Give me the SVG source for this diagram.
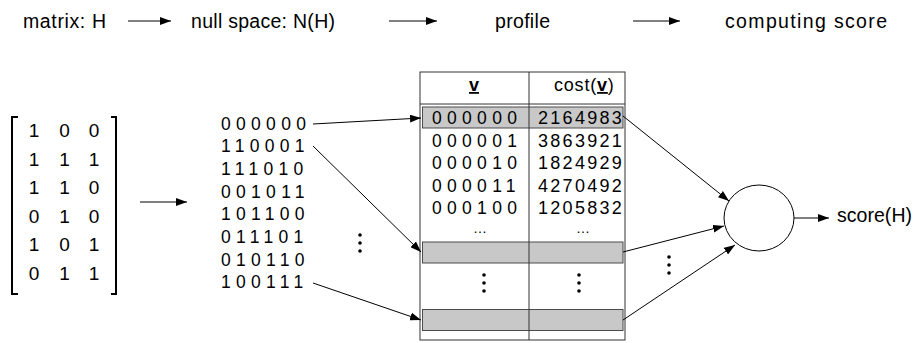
<svg xmlns="http://www.w3.org/2000/svg" width="917" height="343" viewBox="0 0 917 343">
<style>
text{font-family:"Liberation Sans",Arial,sans-serif;fill:#000}
.lbl{font-size:19.5px}
.mx{font-size:19px;text-anchor:middle}
.bits{font-size:17.5px;letter-spacing:5.3px}
.cost{font-size:18px;letter-spacing:2.3px}
.conn line{stroke:#000;stroke-width:1;fill:none}
.row{fill:#c8c8c8;stroke:#4a4a4a;stroke-width:1}
.dot{fill:#000}
</style>
<defs>
<marker id="ah" viewBox="0 0 11 8" refX="11" refY="4" markerWidth="11" markerHeight="8" markerUnits="userSpaceOnUse" orient="auto">
<path d="M0,0 L11,4 L0,8 Z" fill="#000"/>
</marker>
</defs>

<g id="labels">
<text class="lbl" x="23" y="28" textLength="83" lengthAdjust="spacing">matrix: H</text>
<text class="lbl" x="191" y="28" textLength="144" lengthAdjust="spacing">null space: N(H)</text>
<text class="lbl" x="495" y="28" textLength="55" lengthAdjust="spacing">profile</text>
<text class="lbl" x="725" y="28" textLength="162" lengthAdjust="spacing">computing score</text>
</g>

<g id="matrix">
<path d="M18,117 H12 V294 H18" fill="none" stroke="#000" stroke-width="2"/>
<path d="M111,117 H116 V294 H111" fill="none" stroke="#000" stroke-width="2"/>
<text class="mx" x="34" y="137">1</text><text class="mx" x="64.5" y="137">0</text><text class="mx" x="94" y="137">0</text>
<text class="mx" x="34" y="165.5">1</text><text class="mx" x="64.5" y="165.5">1</text><text class="mx" x="94" y="165.5">1</text>
<text class="mx" x="34" y="194">1</text><text class="mx" x="64.5" y="194">1</text><text class="mx" x="94" y="194">0</text>
<text class="mx" x="34" y="222.5">0</text><text class="mx" x="64.5" y="222.5">1</text><text class="mx" x="94" y="222.5">0</text>
<text class="mx" x="34" y="251">1</text><text class="mx" x="64.5" y="251">0</text><text class="mx" x="94" y="251">1</text>
<text class="mx" x="34" y="279.5">0</text><text class="mx" x="64.5" y="279.5">1</text><text class="mx" x="94" y="279.5">1</text>
</g>

<g id="nullspace">
<text class="bits" x="221" y="129.5">000000</text>
<text class="bits" x="221" y="152.2">110001</text>
<text class="bits" x="221" y="174.9">111010</text>
<text class="bits" x="221" y="197.6">001011</text>
<text class="bits" x="221" y="220.3">101100</text>
<text class="bits" x="221" y="243">011101</text>
<text class="bits" x="221" y="265.7">010110</text>
<text class="bits" x="221" y="288.4">100111</text>
<circle class="dot" cx="360" cy="235" r="1.8"/>
<circle class="dot" cx="360" cy="243" r="1.8"/>
<circle class="dot" cx="360" cy="251" r="1.8"/>
</g>

<g id="profile">
<rect x="420" y="72" width="205" height="268" fill="#fff" stroke="#333" stroke-width="1"/>
<line x1="420" y1="104" x2="625" y2="104" stroke="#333" stroke-width="1"/>
<rect class="row" x="422.5" y="107" width="200.5" height="21"/>
<rect class="row" x="422.5" y="242" width="200.5" height="21"/>
<rect class="row" x="422.5" y="309.5" width="200.5" height="21"/>
<line x1="529" y1="72" x2="529" y2="340" stroke="#333" stroke-width="1"/>
<text x="474" y="91" font-size="18" font-weight="bold" text-anchor="middle" text-decoration="underline">v</text>
<text x="554" y="91" font-size="18" letter-spacing="0.8">cost(<tspan font-weight="bold" text-decoration="underline">v</tspan>)</text>
<text class="bits" x="432" y="124">000000</text><text class="cost" x="538" y="124">2164983</text>
<text class="bits" x="432" y="146.5">000001</text><text class="cost" x="538" y="146.5">3863921</text>
<text class="bits" x="432" y="169">000010</text><text class="cost" x="538" y="169">1824929</text>
<text class="bits" x="432" y="191.5">000011</text><text class="cost" x="538" y="191.5">4270492</text>
<text class="bits" x="432" y="214">000100</text><text class="cost" x="538" y="214">1205832</text>
<text x="480" y="233" font-size="14" text-anchor="middle">…</text>
<text x="583" y="233" font-size="14" text-anchor="middle">…</text>
<circle class="dot" cx="484" cy="275" r="1.8"/>
<circle class="dot" cx="484" cy="283" r="1.8"/>
<circle class="dot" cx="484" cy="291" r="1.8"/>
<circle class="dot" cx="579" cy="275" r="1.8"/>
<circle class="dot" cx="579" cy="283" r="1.8"/>
<circle class="dot" cx="579" cy="291" r="1.8"/>
</g>

<g id="score">
<ellipse cx="759" cy="218" rx="35" ry="33" fill="#fff" stroke="#000" stroke-width="1"/>
<text class="lbl" x="837" y="222" textLength="75" lengthAdjust="spacing">score(H)</text>
</g>

<g id="extra-dots">
<circle class="dot" cx="669" cy="257" r="1.8"/>
<circle class="dot" cx="669" cy="265" r="1.8"/>
<circle class="dot" cx="669" cy="273" r="1.8"/>
</g>

<g class="conn" id="connectors">
<line x1="128" y1="21" x2="171" y2="21" marker-end="url(#ah)"/>
<line x1="389" y1="21" x2="437" y2="21" marker-end="url(#ah)"/>
<line x1="633" y1="21" x2="680" y2="21" marker-end="url(#ah)"/>
<line x1="140" y1="202" x2="187" y2="202" marker-end="url(#ah)"/>
<line x1="313" y1="124" x2="421" y2="118" marker-end="url(#ah)"/>
<line x1="313" y1="146" x2="421" y2="252" marker-end="url(#ah)"/>
<line x1="313" y1="283" x2="421" y2="320" marker-end="url(#ah)"/>
<line x1="623" y1="116" x2="729" y2="201" marker-end="url(#ah)"/>
<line x1="623" y1="252" x2="724" y2="226" marker-end="url(#ah)"/>
<line x1="623" y1="320" x2="735" y2="245" marker-end="url(#ah)"/>
<line x1="794" y1="218" x2="829" y2="218" marker-end="url(#ah)"/>
</g>
</svg>
